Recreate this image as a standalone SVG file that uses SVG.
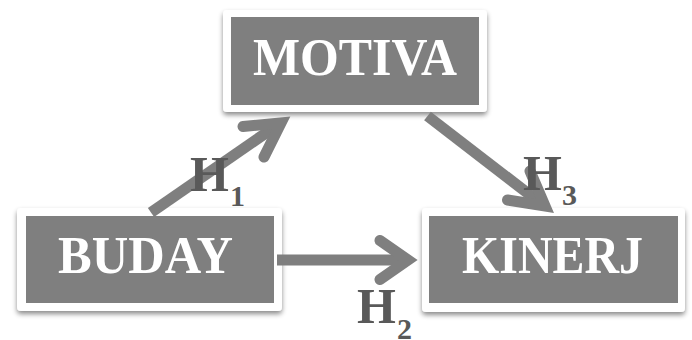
<svg xmlns="http://www.w3.org/2000/svg" width="692" height="340" viewBox="0 0 692 340">
  <style>
    .frame { fill: #ffffff; filter: url(#shadow); }
    .panel { fill: #7f7f7f; }
    .name { font-family: "Liberation Serif", "DejaVu Serif", serif; font-weight: bold; font-size: 53px; fill: #ffffff; }
    .shaft { fill: none; stroke: #7f7f7f; stroke-width: 11; stroke-linecap: butt; }
    .head { fill: none; stroke: #7f7f7f; stroke-width: 11; stroke-linecap: round; stroke-linejoin: miter; stroke-miterlimit: 10; }
    .hyp { font-family: "Liberation Serif", "DejaVu Serif", serif; font-weight: bold; font-size: 50px; fill: #595959; }
    .sub { font-size: 30px; }
  </style>
  <defs>
    <filter id="shadow" x="-10%" y="-20%" width="120%" height="150%">
      <feDropShadow dx="0" dy="3" stdDeviation="2.5" flood-color="#000000" flood-opacity="0.45"/>
    </filter>
  </defs>
  <rect width="692" height="340" fill="#ffffff"/>

  <g id="motiva">
    <rect class="frame" x="223" y="10" width="264" height="102" rx="4"/>
    <rect class="panel" x="231" y="17" width="248" height="88"/>
    <text class="name" x="253" y="75" textLength="204" lengthAdjust="spacingAndGlyphs">MOTIVA</text>
  </g>

  <g id="buday">
    <rect class="frame" x="17" y="208" width="265" height="103" rx="4"/>
    <rect class="panel" x="26" y="216" width="248" height="87"/>
    <text class="name" x="58" y="273" textLength="175" lengthAdjust="spacingAndGlyphs">BUDAY</text>
  </g>

  <g id="kinerj">
    <rect class="frame" x="422" y="208" width="263" height="104" rx="4"/>
    <rect class="panel" x="429" y="216" width="249" height="87"/>
    <text class="name" x="462" y="273" textLength="181" lengthAdjust="spacingAndGlyphs">KINERJ</text>
  </g>

  <g id="connectors">
    <!-- BUDAY to MOTIVA -->
    <line class="shaft" x1="151" y1="212.5" x2="279" y2="124"/>
    <polyline class="head" points="243,126.5 281,123 264,157"/>
    <!-- BUDAY to KINERJ -->
    <line class="shaft" x1="277" y1="260" x2="406" y2="260"/>
    <polyline class="head" points="380,240.5 408,260 380,279.5"/>
    <!-- MOTIVA to KINERJ -->
    <line class="shaft" x1="427.5" y1="116" x2="543" y2="205"/>
    <polyline class="head" points="530,171 545,206 507.5,200"/>
  </g>

  <g id="labels">
    <text class="hyp" x="190" y="191">H<tspan class="sub" x="230" y="206">1</tspan></text>
    <text class="hyp" x="357" y="323">H<tspan class="sub" x="397" y="339">2</tspan></text>
    <text class="hyp" x="523" y="190">H<tspan class="sub" x="562" y="205">3</tspan></text>
  </g>
</svg>
